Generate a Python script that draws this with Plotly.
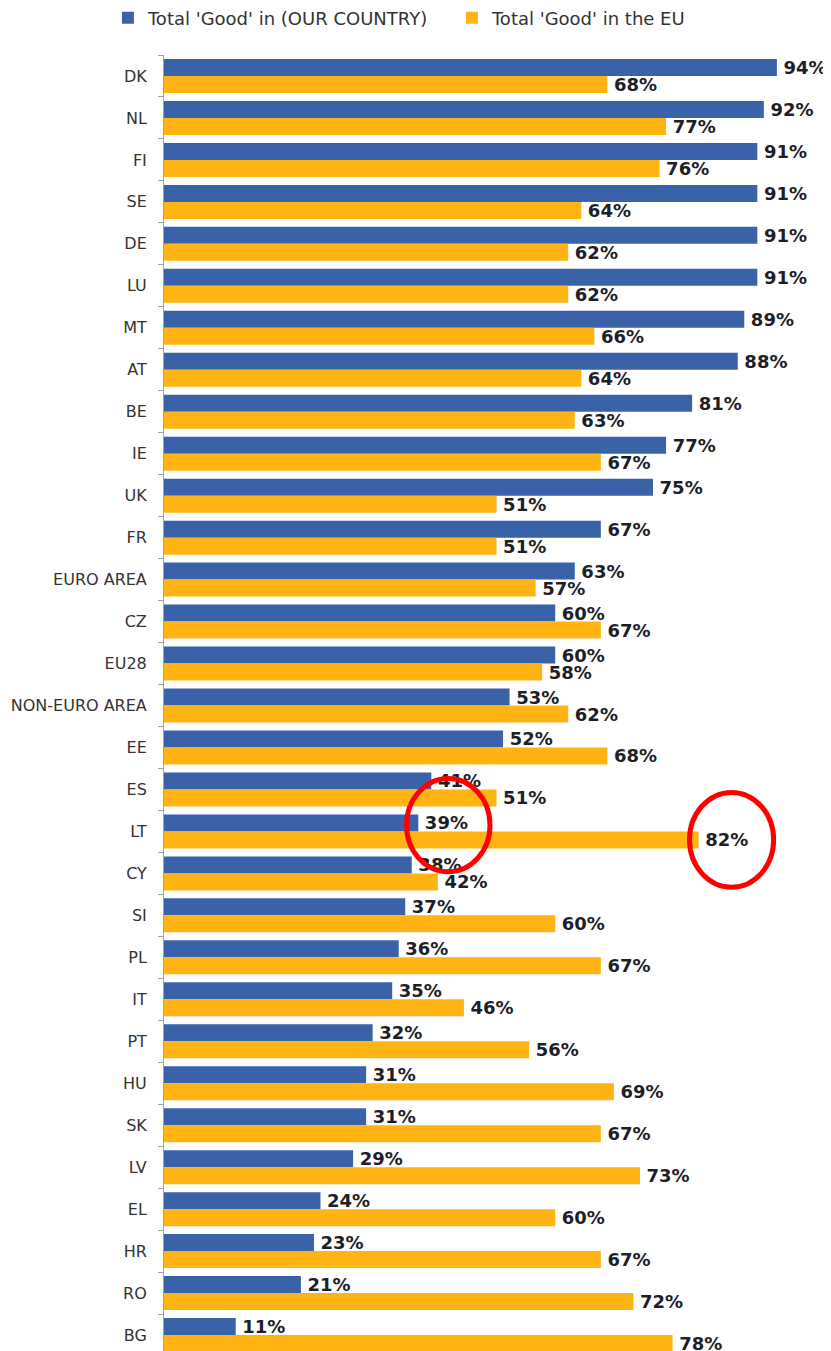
import plotly.graph_objects as go

categories = ["DK", "NL", "FI", "SE", "DE", "LU", "MT", "AT", "BE", "IE", "UK", "FR",
              "EURO AREA", "CZ", "EU28", "NON-EURO AREA", "EE", "ES", "LT", "CY", "SI",
              "PL", "IT", "PT", "HU", "SK", "LV", "EL", "HR", "RO", "BG"]
good_country = [94, 92, 91, 91, 91, 91, 89, 88, 81, 77, 75, 67, 63, 60, 60, 53, 52,
                41, 39, 38, 37, 36, 35, 32, 31, 31, 29, 24, 23, 21, 11]
good_eu = [68, 77, 76, 64, 62, 62, 66, 64, 63, 67, 51, 51, 57, 67, 58, 62, 68,
           51, 82, 42, 60, 67, 46, 56, 69, 67, 73, 60, 67, 72, 78]
series_names = ["Total 'Good' in (OUR COUNTRY)", "Total 'Good' in the EU"]
colors = ["#3A62A8", "#FFB414"]

fig = go.Figure()
for name, vals, col in zip(series_names, [good_country, good_eu], colors):
    fig.add_trace(go.Bar(
        y=categories, x=vals, name=name, orientation="h",
        marker=dict(color=col, line=dict(width=0)),
        text=[f"\u2009{v}%" for v in vals], textposition="outside",
        textfont=dict(family="DejaVu Sans", size=18, color="#1e1e28", weight="bold"),
        cliponaxis=False, constraintext="none",
    ))

# highlight circles around LT values
lt = categories.index("LT")
fig.add_shape(type="circle", xref="x", yref="y",
              x0=37.2, x1=50.0, y0=lt - 1.26, y1=lt + 0.96,
              line=dict(color="#FF0000", width=5))
fig.add_shape(type="circle", xref="x", yref="y",
              x0=80.6, x1=93.5, y0=lt - 0.93, y1=lt + 1.33,
              line=dict(color="#FF0000", width=5))

# the page body adds an 8px offset, so the figure is sized to fit the window
fig.update_layout(
    width=823, height=1343,
    margin=dict(l=156, r=15, t=47, b=0, autoexpand=False),
    paper_bgcolor="white", plot_bgcolor="white",
    barmode="group", bargap=0.19, bargroupgap=0,
    font=dict(family="DejaVu Sans", color="#333333"),
    showlegend=True,
    legend=dict(orientation="h", x=-0.086, xanchor="left", y=1.0285, yanchor="middle",
                font=dict(size=18, color="#333333"), itemwidth=30,
                entrywidth=299, entrywidthmode="pixels",
                bgcolor="rgba(0,0,0,0)", traceorder="normal"),
    xaxis=dict(range=[0, 100], visible=False, showgrid=False, zeroline=False),
    yaxis=dict(range=[30.38, -0.5], showline=True, linecolor="#A0A0A0", linewidth=1,
               ticks="outside", tickson="boundaries", ticklen=5, tickcolor="#A0A0A0",
               tickfont=dict(size=16, color="#333333"), showgrid=False,
               ticklabelstandoff=13, automargin=False),
)

fig.write_html("out.html")
